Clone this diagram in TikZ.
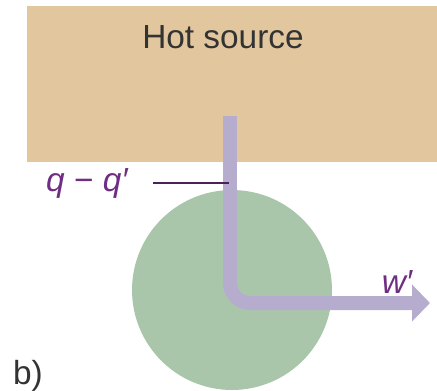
\documentclass[tikz,border=0pt]{standalone}
\usepackage{fontspec}
\setmainfont{Liberation Sans}
\usetikzlibrary{arrows.meta}
\definecolor{hotsrc}{RGB}{226,199,158}
\definecolor{engine}{RGB}{169,198,171}
\definecolor{flowc}{RGB}{181,172,206}
\definecolor{lblc}{RGB}{112,46,130}
\newcommand{\lblsize}{\fontsize{19}{22}\selectfont}

\begin{document}
\begin{tikzpicture}[x=0.02cm,y=-0.02cm,
  lbl/.style={font=\lblsize\itshape,text=lblc,inner sep=0pt},
  flow/.style={draw=flowc,line width=0.28cm,rounded corners=0.4cm,
    -{Triangle[length=0.36cm,width=0.72cm]}}]
\useasboundingbox (0,0) rectangle (437,390);
% reservoir
\fill[hotsrc] (27,6) rectangle (437,162);
\node[font=\lblsize,text=black!80] (hot) at (223,37) {Hot source};
% engine
\node[circle,fill=engine,minimum size=4cm,inner sep=0pt] (eng) at (232,290) {};
% heat in, work out
\coordinate (top) at (230,116);
\coordinate (bend) at (230,303);
\coordinate (tip) at (430,303);
\draw[flow] (top) -- (bend) -- (tip);
\node[lbl,anchor=east] (qq) at (128,183) {q \upshape − \itshape q′};
\coordinate (tap) at (229,182);
\draw[lblc!70!black,line width=0.04cm] ([xshift=0.5cm]qq.east) -- (qq.east -| tap);
\node[lbl] (w) at (397,282) {w′};
\node[font=\lblsize,text=black!80] (b) at (28,376) {b)};
\end{tikzpicture}
\end{document}
